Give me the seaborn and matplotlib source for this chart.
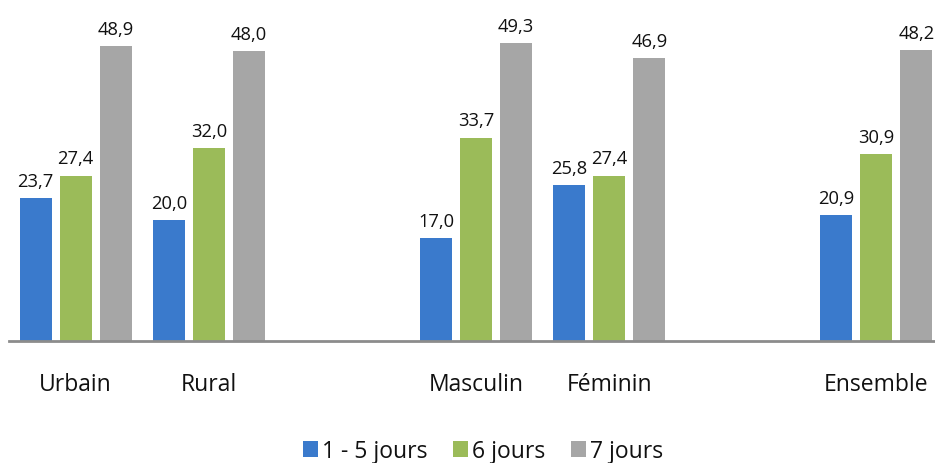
import pandas as pd
import seaborn as sns
import matplotlib.pyplot as plt

# categories (blank ones are the gaps between groups)
categories = ["Urbain", "Rural", " ", "Masculin", "Féminin", "  ", "Ensemble"]
groups = ["Urbain", "Rural", "Masculin", "Féminin", "Ensemble"]
series = ["1 - 5 jours", "6 jours", "7 jours"]
v_1_5 = [23.7, 20.0, 17.0, 25.8, 20.9]
v_6 = [27.4, 32.0, 33.7, 27.4, 30.9]
v_7 = [48.9, 48.0, 49.3, 46.9, 48.2]
colors = ["#3a7acc", "#9bbb59", "#a6a6a6"]

rows = []
for s, vals in zip(series, [v_1_5, v_6, v_7]):
    for g, v in zip(groups, vals):
        rows.append({"cat": g, "serie": s, "val": v})
df = pd.DataFrame(rows)

sns.set_style("white")
plt.rcParams['font.family'] = ['Open Sans', 'DejaVu Sans']

fig = plt.figure(figsize=(9.35, 4.64), dpi=100)
ax = fig.add_axes([9/935, (464-342)/464, (935-9)/935, 338/464])

sns.barplot(data=df, x="cat", y="val", hue="serie", order=categories,
            hue_order=series, palette=colors, saturation=1, width=0.9, gap=0.2,
            edgecolor="none", ax=ax)

for cont in ax.containers:
    labels = [f"{b.get_height():.1f}".replace(".", ",") for b in cont]
    ax.bar_label(cont, labels=labels, padding=6, fontsize=13.2, color="#111111")

ax.set_xlim(-0.5, 6.44)
ax.set_ylim(0, 56)
ax.set_xlabel("")
ax.set_ylabel("")
ax.set_yticks([])
ax.tick_params(axis="x", length=0, pad=22, labelsize=16.5, labelcolor="#111111")
for s in ["top", "right", "left"]:
    ax.spines[s].set_visible(False)
ax.spines["bottom"].set_color("#8c8c8c")
ax.spines["bottom"].set_linewidth(2)

ax.legend(loc="center", bbox_to_anchor=(483/935, (464-452)/464), bbox_transform=fig.transFigure,
          ncol=3, frameon=False, fontsize=16.5, handlelength=0.65, handleheight=0.65,
          handletextpad=0.2, columnspacing=1.1, labelcolor="#111111")

fig.savefig("out.png", dpi=100)
